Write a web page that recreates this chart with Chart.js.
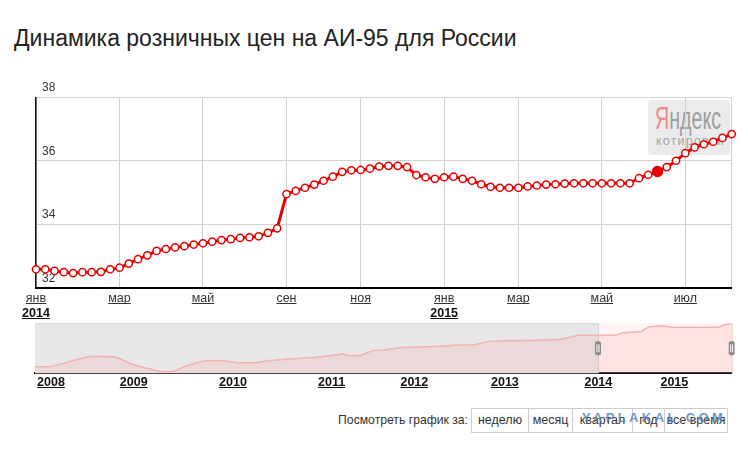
<!DOCTYPE html>
<html>
<head>
<meta charset="utf-8">
<script src="https://cdn.jsdelivr.net/npm/chart.js@4"></script>
<style>
  body { margin: 0; background: #fff; width: 748px; height: 449px; position: relative; overflow: hidden;
         font-family: Arial, "Liberation Sans", sans-serif; color: #333; }
  #title { position: absolute; left: 14px; top: 24px; font-size: 23px; line-height: 28px; color: #222; white-space: nowrap; }
  #logo { position: absolute; left: 648px; top: 100px; width: 82px; height: 55px; background: rgba(232,232,232,0.85); border-radius: 4px; }
  #logo .ya { position: absolute; left: 7px; top: 2px; font-size: 31px; line-height: 34px; transform-origin: left top; white-space: nowrap; }
  #logo .ya b { font-weight: normal; color: #ee8a8a; }
  #logo .ya span { color: #9e9e9e; }
  #logo .sub { position: absolute; left: 8px; top: 34px; font-size: 12.5px; letter-spacing: 1.2px; color: #a5a5a5; }
  .box { position: absolute; left: 0; width: 748px; }
  #mainBox { top: 70px; height: 255px; }
  #navBox { top: 315px; height: 80px; }
  #periodLabel { position: absolute; right: 280px; top: 413px; font-size: 12.2px; color: #333; }
  #period { position: absolute; left: 471px; top: 408px; height: 23px; border: 1px solid #ccc; display: flex; font-size: 12.5px; color: #333; }
  #period div { line-height: 23px; text-align: center; border-left: 1px solid #ccc; }
  #period div:first-child { border-left: none; }
  #wm { position: absolute; left: 582px; top: 410px; font-size: 13px; font-weight: bold; letter-spacing: 3.4px; color: rgba(85,130,185,0.85); }
</style>
</head>
<body>
<div id="title">Динамика розничных цен на АИ-95 для России</div>
<div id="logo"><div class="ya"><span id="ya" style="display:inline-block;transform-origin:left top"><b>Я</b><span>ндекс</span></span></div><div class="sub">котировки</div></div>
<div class="box" id="mainBox"><canvas id="mainChart"></canvas></div>
<div class="box" id="navBox"><canvas id="navChart"></canvas></div>
<div id="periodLabel">Посмотреть график за:</div>
<div id="period">
  <div style="width:56px">неделю</div>
  <div style="width:43px">месяц</div>
  <div style="width:59px">квартал</div>
  <div style="width:31px">год</div>
  <div style="width:62px">все время</div>
</div>
<div id="wm">YAPLAKAL.COM</div>

<script>
// weekly prices, rub per litre (Jan 2014 - Jul 2015, Jul-Aug 2014 missing)
const prices = [
  32.58, 32.58, 32.53, 32.49, 32.46, 32.49, 32.49, 32.50, 32.58, 32.63,
  32.76, 32.90, 33.02, 33.16, 33.22, 33.27, 33.31, 33.36, 33.40, 33.45,
  33.50, 33.53, 33.57, 33.59, 33.62, 33.73, 33.87, 34.95, 35.05, 35.15,
  35.25, 35.37, 35.50, 35.65, 35.70, 35.71, 35.75, 35.82, 35.84, 35.84,
  35.80, 35.55, 35.48, 35.43, 35.48, 35.50, 35.43, 35.37, 35.26, 35.18,
  35.15, 35.15, 35.15, 35.19, 35.22, 35.25, 35.26, 35.28, 35.29, 35.29,
  35.29, 35.29, 35.29, 35.29, 35.29, 35.45, 35.56, 35.66, 35.80, 36.00,
  36.24, 36.42, 36.52, 36.60, 36.72, 36.84
];
const activeIndex = 67;

// month ticks on the main chart
const tickIndex = [0, 9, 18, 27, 35, 44, 52, 61, 70];
const tickMonth = ['янв', 'мар', 'май', 'сен', 'ноя', 'янв', 'мар', 'май', 'июл'];
const tickYear = ['2014', '', '', '', '', '2015', '', '', ''];
const yTicks = [32, 34, 36, 38];

// navigator (whole history), x = week position
const navPos = [0, 8.4, 15.9, 23.5, 31, 34.7, 44.1, 47.9, 54.4, 62.9,
  70.4, 77.9, 85.4, 91, 95.7, 106, 113.6, 124.8, 130.5, 139.8,
  147.4, 158.6, 166.1, 173.6, 175.5, 183, 190.5, 196.1, 206.5, 215.8,
  227.1, 236.5, 247.7, 255.2, 264.6, 277.8, 294.6, 300.3, 305.9, 316.8,
  326.6, 331.3, 341.6, 345.4, 352.9, 358.5, 366, 384.7, 388.5, 392.3];
const navPrice = [22.2, 22.2, 23.3, 24.6, 25.6, 25.7, 25.5, 24.9, 23.0, 21.7,
  20.6, 20.6, 22.5, 23.5, 24.2, 24.2, 23.5, 23.5, 24.2, 24.6,
  24.9, 25.3, 25.8, 26.5, 25.9, 25.9, 27.6, 27.7, 28.6, 28.7,
  29.0, 29.3, 29.5, 30.6, 30.8, 30.9, 31.2, 31.9, 32.6, 32.6,
  32.6, 33.5, 33.9, 35.4, 35.8, 35.3, 35.3, 35.3, 36.2, 36.5];
const navYears = ['2008', '2009', '2010', '2011', '2012', '2013', '2014', '2015'];
const navYearPos = [9, 55.6, 111.5, 167, 213.6, 264.6, 317.2, 360];
const navSelStart = 317;

Chart.defaults.font.family = 'Arial, "Liberation Sans", sans-serif';

// squeeze the logo word to its width in the picture
const ya = document.getElementById('ya');
ya.style.transform = 'scaleX(' + (66 / ya.offsetWidth).toFixed(3) + ')';

const monthLabels = prices.map((_, i) => {
  const k = tickIndex.indexOf(i);
  return k >= 0 ? tickMonth[k] : '';
});
const yearLabels = prices.map((_, i) => {
  const k = tickIndex.indexOf(i);
  return k >= 0 ? tickYear[k] : '';
});

// underline tick labels like links
const underline = {
  id: 'underline',
  afterDraw(chart, args, opts) {
    const ctx = chart.ctx;
    (opts.axes || []).forEach(id => {
      const s = chart.scales[id];
      if (!s || !s.getLabelItems) return;
      ctx.save();
      ctx.strokeStyle = s.options.ticks.color;
      ctx.lineWidth = 1;
      s.getLabelItems().forEach(item => {
        const txt = Array.isArray(item.label) ? item.label[0] : item.label;
        if (!txt) return;
        ctx.font = item.font.string;
        ctx.textBaseline = item.options.textBaseline;
        const w = ctx.measureText(txt).width;
        const base = ctx.measureText('o').actualBoundingBoxDescent;
        const [x, y] = item.options.translation;
        const uy = Math.round(y + item.textOffset + base + 1) + 0.5;
        ctx.beginPath();
        ctx.moveTo(x - w / 2, uy);
        ctx.lineTo(x + w / 2, uy);
        ctx.stroke();
      });
      ctx.restore();
    });
  }
};

new Chart(document.getElementById('mainChart'), {
  type: 'line',
  data: {
    labels: monthLabels,
    datasets: [{
      data: prices,
      borderColor: '#e60000',
      borderWidth: 3,
      pointRadius: c => c.dataIndex === activeIndex ? 5 : 3.6,
      pointBackgroundColor: c => c.dataIndex === activeIndex ? '#e60000' : '#fff',
      pointBorderColor: '#e60000',
      pointBorderWidth: 1.5,
      tension: 0
    }]
  },
  options: {
    responsive: true,
    maintainAspectRatio: false,
    animation: false,
    events: [],
    layout: { padding: { left: 36, top: 27.3, right: 16.3, bottom: 7.3 } },
    plugins: { legend: { display: false }, tooltip: { enabled: false }, underline: { axes: ['x', 'x2'] } },
    scales: {
      x: {
        type: 'category',
        weight: 0,
        afterFit: s => { s.height = 16; },
        grid: {
          drawTicks: false,
          color: c => (tickIndex.includes(c.index) || c.index === prices.length - 1) ? '#d0d0d0' : 'rgba(0,0,0,0)'
        },
        border: { color: '#000', width: 2 },
        ticks: { autoSkip: false, maxRotation: 0, padding: 3.5, color: '#333', font: { size: 12.5 } }
      },
      x2: {
        type: 'category',
        position: 'bottom',
        weight: 1,
        labels: yearLabels,
        afterFit: s => { s.height = 14; },
        grid: { display: false, drawTicks: false },
        border: { display: false },
        ticks: { autoSkip: false, maxRotation: 0, padding: 2.2, color: '#111', font: { size: 12.5, weight: 'bold' } }
      },
      y: {
        min: 32,
        max: 38,
        afterFit: s => { s.width = 0; },
        afterBuildTicks: s => { s.ticks = yTicks.map(v => ({ value: v })); },
        grid: { drawTicks: false, color: '#d0d0d0' },
        border: { color: '#111', width: 1.5 },
        ticks: { mirror: true, padding: 6, labelOffset: -9.5, color: '#333', font: { size: 12 } }
      }
    }
  },
  plugins: [underline]
});

// navigator shading and handles
const navDecor = {
  id: 'navDecor',
  beforeDatasetsDraw(chart) {
    const { ctx, chartArea: a, scales: { x } } = chart;
    const sx = x.getPixelForValue(navSelStart);
    ctx.save();
    ctx.fillStyle = '#e8e8e8';
    ctx.fillRect(a.left, a.top, sx - a.left, a.bottom - a.top);
    ctx.fillStyle = 'rgba(255,200,200,0.22)';
    ctx.fillRect(sx, a.top, a.right - sx, a.bottom - a.top);
    ctx.strokeStyle = '#d4d4d4';
    ctx.lineWidth = 1;
    ctx.beginPath();
    ctx.moveTo(a.left, a.top + 0.5);
    ctx.lineTo(sx, a.top + 0.5);
    ctx.moveTo(sx + 0.5, a.top);
    ctx.lineTo(sx + 0.5, a.bottom);
    ctx.stroke();
    ctx.strokeStyle = '#f4c4c4';
    ctx.beginPath();
    ctx.moveTo(a.right + 0.5, a.top);
    ctx.lineTo(a.right + 0.5, a.bottom);
    ctx.stroke();
    ctx.restore();
  },
  afterDraw(chart) {
    const { ctx, chartArea: a, scales: { x } } = chart;
    const cy = (a.top + a.bottom) / 2;
    [x.getPixelForValue(navSelStart), a.right].forEach(px => {
      ctx.save();
      ctx.fillStyle = '#8a8a8a';
      ctx.beginPath();
      ctx.roundRect(px - 3, cy - 7, 6, 14, 2);
      ctx.fill();
      ctx.strokeStyle = '#fff';
      ctx.lineWidth = 1;
      ctx.beginPath();
      ctx.moveTo(px - 1, cy - 4); ctx.lineTo(px - 1, cy + 4);
      ctx.moveTo(px + 1, cy - 4); ctx.lineTo(px + 1, cy + 4);
      ctx.stroke();
      ctx.restore();
    });
  }
};

new Chart(document.getElementById('navChart'), {
  type: 'line',
  data: {
    datasets: [{
      data: navPos.map((p, i) => ({ x: p, y: navPrice[i] })),
      borderColor: '#f0b2b2',
      borderWidth: 1.5,
      backgroundColor: 'rgba(255,110,110,0.13)',
      fill: 'start',
      pointRadius: 0,
      tension: 0
    }]
  },
  options: {
    responsive: true,
    maintainAspectRatio: false,
    animation: false,
    events: [],
    layout: { padding: { left: 35, top: 8.3, right: 16.3, bottom: 5.7 } },
    plugins: { legend: { display: false }, tooltip: { enabled: false }, underline: { axes: ['x'] } },
    scales: {
      x: {
        type: 'linear',
        min: 0,
        max: 392.3,
        afterFit: s => { s.height = 16; },
        afterBuildTicks: s => { s.ticks = navYearPos.map(v => ({ value: v })); },
        grid: { display: false, drawTicks: false },
        border: { color: '#000', width: 2 },
        ticks: {
          padding: 2,
          color: '#111',
          font: { size: 12.5, weight: 'bold' },
          callback: v => { const k = navYearPos.indexOf(v); return k >= 0 ? navYears[k] : ''; }
        }
      },
      y: { display: false, min: 20, max: 36.6 }
    }
  },
  plugins: [underline, navDecor]
});
</script>
</body>
</html>
